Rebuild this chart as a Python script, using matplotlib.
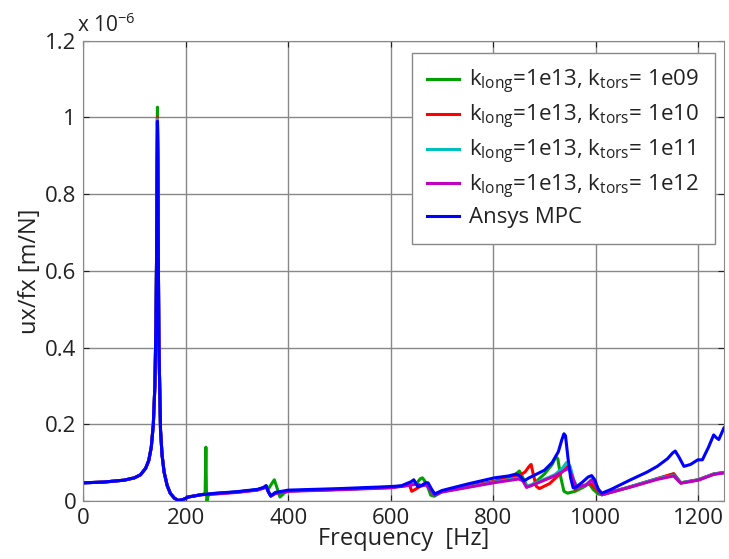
import matplotlib
matplotlib.use("Agg")
import matplotlib.pyplot as plt
from matplotlib.ticker import FuncFormatter

plt.rcParams['font.family'] = ['Open Sans', 'DejaVu Sans']
plt.rcParams['mathtext.fontset'] = 'custom'
plt.rcParams['mathtext.rm'] = 'Open Sans'

# ---- data (ux/fx in units of 1e-6 m/N) ----
# shared low-frequency part (first resonance), identical for all models
f_rise = [0, 40, 80, 100, 112, 122, 128, 133, 137, 140, 142, 143.2, 144.3]
ux_rise = [0.047, 0.049, 0.054, 0.060, 0.068, 0.085, 0.105, 0.14, 0.20, 0.30, 0.45, 0.62, 0.88]
f_peak = 145
f_fall = [145.8, 146.8, 148, 151, 154, 158, 164, 170, 178, 186, 196, 205, 230]
ux_fall = [0.90, 0.62, 0.40, 0.185, 0.12, 0.075, 0.04, 0.02, 0.007, 0.001, 0.004, 0.010, 0.016]

peak_1e09 = 1.027
peak_1e10 = 1.0
peak_1e11 = 0.995
peak_1e12 = 0.99
peak_mpc = 0.99

f_1e09 = [236, 238, 239.5, 240.5, 241.5, 244, 250, 300, 340, 352, 357, 361, 368, 373, 378, 384,
          392, 400, 500, 600, 640, 650, 658, 662, 670, 678, 685, 700, 750, 800, 840, 851, 858,
          866, 875, 900, 915, 922, 926, 932, 938, 945, 960, 975, 987, 995, 1005, 1012, 1068,
          1120, 1152, 1166, 1200, 1230, 1250]
ux_1e09 = [0.018, 0.022, 0.14, 0.03, 0.0, 0.014, 0.019, 0.023, 0.029, 0.034, 0.038, 0.03, 0.045,
           0.055, 0.035, 0.010, 0.020, 0.026, 0.030, 0.035, 0.042, 0.045, 0.058, 0.060, 0.045,
           0.015, 0.012, 0.024, 0.038, 0.050, 0.065, 0.078, 0.060, 0.038, 0.040, 0.070, 0.095,
           0.115, 0.110, 0.060, 0.025, 0.020, 0.025, 0.035, 0.045, 0.030, 0.018, 0.016, 0.037,
           0.058, 0.070, 0.047, 0.055, 0.070, 0.074]

f_1e10 = [260, 300, 340, 352, 357, 361, 366, 375, 400, 500, 600, 630, 636, 641, 648, 660, 670,
          680, 686, 700, 750, 800, 850, 862, 870, 874, 878, 884, 890, 910, 930, 945, 950, 955,
          960, 975, 990, 1005, 1012, 1068, 1120, 1152, 1166, 1200, 1230, 1250]
ux_1e10 = [0.019, 0.023, 0.029, 0.034, 0.038, 0.025, 0.013, 0.020, 0.026, 0.030, 0.036, 0.040,
           0.044, 0.025, 0.030, 0.040, 0.042, 0.025, 0.018, 0.025, 0.038, 0.050, 0.066, 0.075,
           0.090, 0.095, 0.070, 0.038, 0.032, 0.045, 0.070, 0.090, 0.085, 0.050, 0.030, 0.040,
           0.045, 0.025, 0.016, 0.037, 0.058, 0.071, 0.047, 0.055, 0.070, 0.074]

f_1e11 = [260, 300, 340, 352, 357, 361, 366, 375, 400, 500, 600, 640, 650, 660, 670, 680, 686,
          700, 750, 800, 850, 858, 865, 880, 920, 935, 943, 950, 957, 964, 980, 992, 1000, 1012,
          1068, 1120, 1152, 1166, 1200, 1230, 1250]
ux_1e11 = [0.019, 0.023, 0.029, 0.034, 0.038, 0.025, 0.013, 0.020, 0.026, 0.030, 0.035, 0.042,
           0.045, 0.040, 0.043, 0.025, 0.016, 0.024, 0.036, 0.048, 0.060, 0.055, 0.037, 0.045,
           0.068, 0.085, 0.100, 0.090, 0.055, 0.035, 0.040, 0.055, 0.040, 0.016, 0.037, 0.058,
           0.066, 0.047, 0.055, 0.070, 0.074]

f_1e12 = [260, 300, 340, 352, 357, 361, 366, 375, 400, 500, 600, 640, 650, 660, 670, 680, 686,
          700, 750, 800, 850, 858, 865, 880, 920, 940, 948, 955, 962, 980, 992, 1000, 1012, 1068,
          1120, 1152, 1166, 1200, 1230, 1250]
ux_1e12 = [0.018, 0.022, 0.028, 0.033, 0.037, 0.024, 0.012, 0.019, 0.025, 0.029, 0.034, 0.041,
           0.044, 0.039, 0.042, 0.024, 0.015, 0.023, 0.035, 0.047, 0.057, 0.052, 0.035, 0.043,
           0.065, 0.080, 0.085, 0.060, 0.035, 0.040, 0.055, 0.040, 0.016, 0.036, 0.056, 0.065,
           0.046, 0.054, 0.069, 0.073]

f_mpc = [260, 300, 340, 352, 357, 361, 366, 375, 400, 500, 595, 620, 640, 645, 653, 660, 668, 673,
         680, 686, 700, 750, 802, 830, 845, 852, 860, 870, 900, 915, 927, 934, 938, 941, 946, 951,
         956, 962, 975, 985, 992, 998, 1005, 1012, 1030, 1068, 1100, 1120, 1140, 1150, 1155, 1162,
         1172, 1185, 1199, 1208, 1220, 1230, 1235, 1240, 1245, 1250]
ux_mpc = [0.020, 0.024, 0.030, 0.035, 0.040, 0.025, 0.013, 0.022, 0.028, 0.032, 0.037, 0.039,
          0.050, 0.055, 0.037, 0.040, 0.047, 0.047, 0.030, 0.018, 0.027, 0.044, 0.060, 0.065,
          0.070, 0.065, 0.052, 0.060, 0.080, 0.100, 0.128, 0.160, 0.175, 0.170, 0.110, 0.060,
          0.034, 0.036, 0.050, 0.062, 0.066, 0.055, 0.030, 0.020, 0.030, 0.055, 0.075, 0.090,
          0.110, 0.125, 0.130, 0.115, 0.090, 0.095, 0.107, 0.107, 0.140, 0.172, 0.165, 0.160,
          0.175, 0.190]

labels = [r'k$_{\mathrm{long}}$=1e13, k$_{\mathrm{tors}}$= 1e09',
          r'k$_{\mathrm{long}}$=1e13, k$_{\mathrm{tors}}$= 1e10',
          r'k$_{\mathrm{long}}$=1e13, k$_{\mathrm{tors}}$= 1e11',
          r'k$_{\mathrm{long}}$=1e13, k$_{\mathrm{tors}}$= 1e12',
          'Ansys MPC']
colors = ['#00a000', '#ff0000', '#00bfbf', '#c000c0', '#0000ff']

series = [(f_1e09, ux_1e09, peak_1e09), (f_1e10, ux_1e10, peak_1e10),
          (f_1e11, ux_1e11, peak_1e11), (f_1e12, ux_1e12, peak_1e12),
          (f_mpc, ux_mpc, peak_mpc)]

fig = plt.figure(figsize=(7.29, 5.59), dpi=100)
ax = fig.add_axes([0.114, 0.104, 0.879, 0.823])

for (f_tail, ux_tail, peak), lab, col in zip(series, labels, colors):
    f = f_rise + [f_peak] + f_fall + f_tail
    ux = ux_rise + [peak] + ux_fall + ux_tail
    ax.plot(f, ux, color=col, lw=2.2, label=lab)

ax.set_xlim(0, 1250)
ax.set_ylim(0, 1.2)
ax.set_xticks([0, 200, 400, 600, 800, 1000, 1200])
ax.set_yticks([0, 0.2, 0.4, 0.6, 0.8, 1.0, 1.2])
ax.yaxis.set_major_formatter(FuncFormatter(lambda v, p: f'{v:g}'))
ax.tick_params(direction='in', labelsize=16, top=True, right=True, length=4,
               colors='#222222', pad=5)
ax.grid(True, color='#888888', lw=1)
for s in ax.spines.values():
    s.set_color('#888888')

ax.set_xlabel('Frequency  [Hz]', fontsize=17, labelpad=-1, color='#222222')
ax.set_ylabel('ux/fx [m/N]', fontsize=17, labelpad=2, color='#222222')
ax.text(-0.009, 1.008, r'x 10$^{-6}$', transform=ax.transAxes, fontsize=15,
        ha='left', va='bottom', color='#222222')

leg = ax.legend(loc='upper right', bbox_to_anchor=(0.986, 0.974), borderaxespad=0,
                fontsize=16, fancybox=False, framealpha=1, edgecolor='#888888',
                handlelength=1.45, borderpad=0.7, labelspacing=0.3, handletextpad=0.45)
leg.get_frame().set_linewidth(1)
for t in leg.get_texts():
    t.set_color('#222222')

fig.savefig('out.png', dpi=100)
